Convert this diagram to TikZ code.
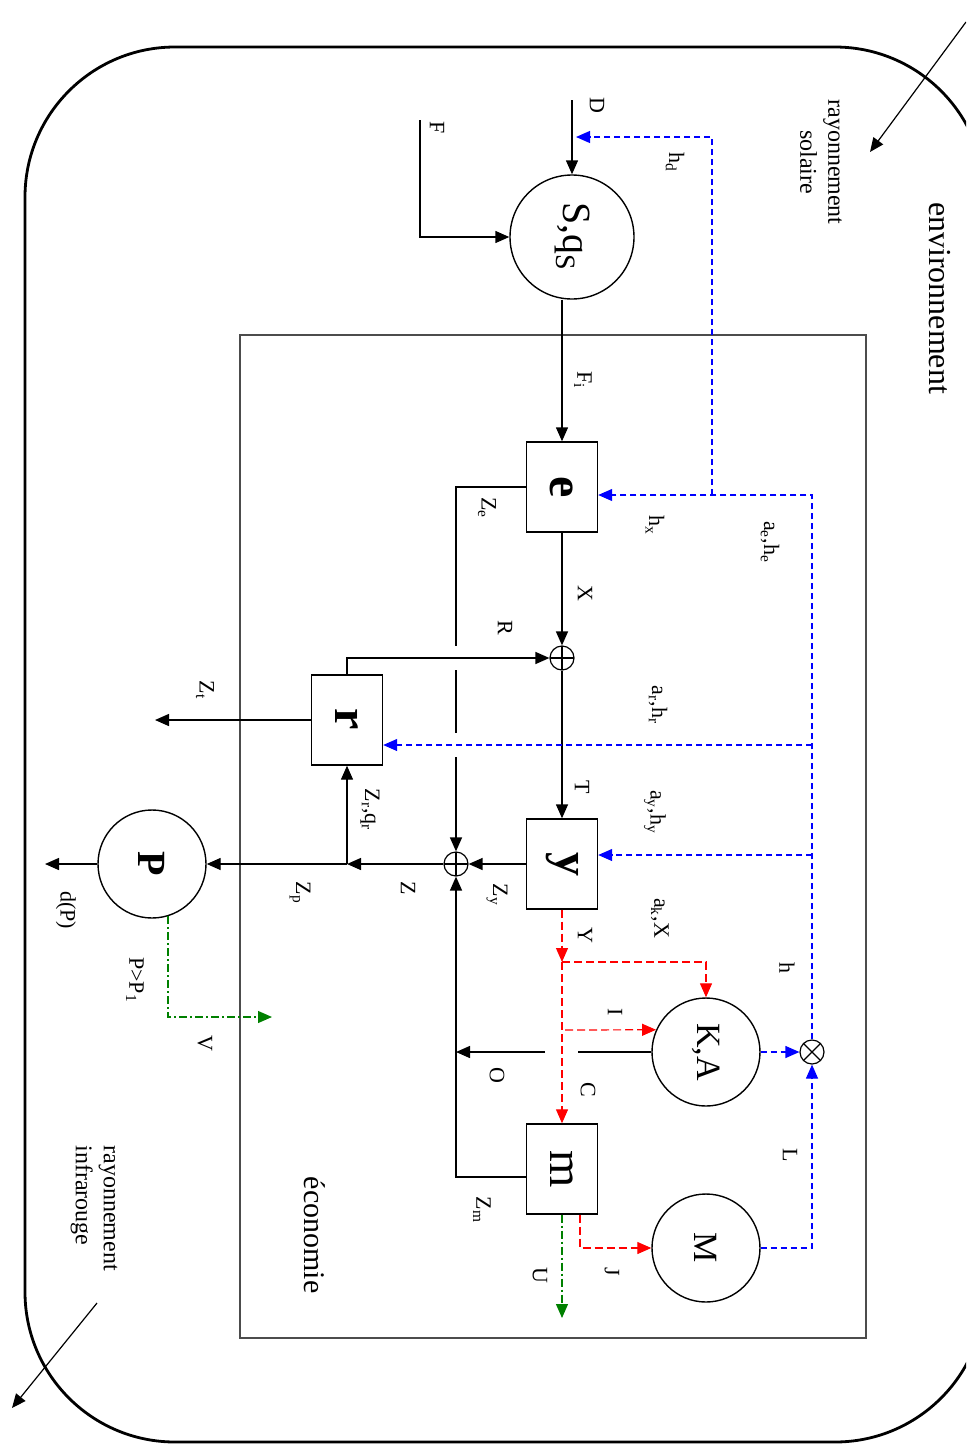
\documentclass[tikz,border=0pt]{standalone}
\usepackage{fontspec}
\setmainfont{Liberation Serif}
\usetikzlibrary{arrows.meta}
\newcommand{\vtext}[1]{\rotatebox[origin=c]{-90}{#1}}

\tikzset{
  tip/.style={-{Triangle[length=7pt,width=6pt]}},
  flow/.style={draw=black,line width=0.7pt,tip},
  ctrl/.style={draw=blue,line width=0.6pt,dash pattern=on 3pt off 2pt,tip},
  inv/.style={draw=red,line width=0.6pt,dash pattern=on 4pt off 2pt,tip},
  sust/.style={draw=green!50!black,line width=0.6pt,dash pattern=on 4pt off 1.5pt on 1pt off 1.5pt,tip},
  bloc/.style={draw,line width=0.7pt,minimum width=35.5pt,minimum height=45pt,inner sep=0pt,fill=white,font=\fontsize{24}{24}\selectfont},
  stock/.style={draw,circle,line width=0.7pt,inner sep=0pt,minimum size=54pt,font=\fontsize{17}{17}\selectfont},
  somme/.style={draw,circle,line width=0.6pt,inner sep=0pt,minimum size=12pt,
    path picture={\draw (path picture bounding box.north) -- (path picture bounding box.south)
      (path picture bounding box.west) -- (path picture bounding box.east);}},
  produit/.style={draw,circle,line width=0.6pt,inner sep=0pt,minimum size=12pt,
    path picture={\draw (path picture bounding box.north west) -- (path picture bounding box.south east)
      (path picture bounding box.north east) -- (path picture bounding box.south west);}},
  lbl/.style={rotate=-90,inner sep=1pt,font=\fontsize{11}{12}\selectfont},
}

\begin{document}
\begin{tikzpicture}[x=0.5pt,y=-0.5pt]
\useasboundingbox (0,0) rectangle (966,1446);
\clip (0,0) rectangle (966,1446);

\draw[line width=1.4pt,rounded corners=75pt] (25,47) rectangle (985,1442);
\draw[line width=0.8pt,draw=black!70] (240,335) rectangle (866,1338);

\node[lbl,font=\fontsize{16}{18}\selectfont] (envt) at (940,298) {environnement};
\node[lbl,font=\fontsize{15}{17}\selectfont] (eco) at (315,1235) {économie};
\node[lbl,font=\fontsize{12}{14}\selectfont,align=center] (sol) at (821,162) {rayonnement\\solaire};
\node[lbl,font=\fontsize{12}{14}\selectfont,align=left] (infra) at (94,1208) {rayonnement\\infrarouge};

\coordinate (sun1) at (966,22);
\coordinate (sun2) at (870,152);
\draw[flow,line width=0.6pt] (sun1) -- (sun2);
\coordinate (ir1) at (97,1303);
\coordinate (ir2) at (12,1408);
\draw[flow,line width=0.6pt] (ir1) -- (ir2);

\node[stock,minimum size=62pt,font=\fontsize{20}{20}\selectfont] (S) at (572,237) {\vtext{S,q\textsubscript{S}}};
\node[bloc,font=\fontsize{24}{24}\selectfont\bfseries] (e) at (562,487) {\vtext{e}};
\node[somme] (add1) at (562,658) {};
\node[bloc,font=\fontsize{24}{24}\selectfont\bfseries] (r) at (347,720) {\vtext{r}};
\node[bloc,font=\fontsize{24}{24}\selectfont\bfseries] (y) at (562,864) {\vtext{y}};
\node[somme] (add2) at (456,864) {};
\node[stock,font=\fontsize{20}{20}\selectfont\bfseries] (P) at (152,864) {\vtext{P}};
\node[stock] (KA) at (706,1052) {\vtext{K,A}};
\node[produit] (mult) at (812,1052) {};
\node[bloc] (m) at (562,1169) {\vtext{m}};
\node[stock] (M) at (706,1248) {\vtext{M}};

\coordinate (Din) at (572,100);
\coordinate (Fin) at (420,120);
\draw[flow] (Din) -- (S.north);
\draw[flow] (Fin) |- (S.west);
\draw[flow] (e.north |- S.south) -- (e.north);
\draw[flow] (e) -- (add1);
\draw[flow] (r.north) |- (add1.west);
\draw[flow] (add1) -- (y);
\draw[flow] (y) -- (add2);

\coordinate (ze1) at (456,646);
\coordinate (ze2) at (456,670);
\coordinate (ze3) at (456,733);
\coordinate (ze4) at (456,757);
\draw[line width=0.7pt] (e.west) -| (ze1);
\draw[line width=0.7pt] (ze2) -- (ze3);
\draw[flow] (ze4) -- (add2.north);
\draw[flow] ([yshift=-4pt]m.west) -| (add2.south);

\coordinate (jz) at (347,864);
\coordinate (ztend) at (155,720);
\coordinate (dpend) at (45,864);
\draw[flow] (add2) -- (jz);
\draw[flow] (jz) -- (P);
\draw[flow] (jz) -- (r.south);
\draw[flow] (r.west) -- (ztend);
\draw[flow] (P.west) -- (dpend);

\coordinate (vend) at (272,1017);
\draw[sust] (P.-73) |- (vend);

\coordinate (he) at (812,495);
\coordinate (hr) at (812,745);
\coordinate (hy) at (812,855);
\coordinate (hd) at (712,495);
\coordinate (hdend) at (576,137);
\draw[ctrl] (mult.north) -- (he) -- ([yshift=-4pt]e.east);
\draw[ctrl] (hr) -- ([yshift=-12.5pt]r.east);
\draw[ctrl] (hy) -- ([yshift=4.5pt]y.east);
\draw[ctrl] (hd) |- (hdend);
\draw[ctrl] (KA) -- (mult);
\draw[ctrl] (M.east) -| (mult.south);

\coordinate (ky) at (562,962);
\coordinate (ki) at (565,1030);
\draw[inv] (y.south) -- (ky);
\draw[inv] (ky) -- (m.north);
\draw[inv] (ky) -| (KA.north);
\draw[inv] (ki) -- (KA.156);
\draw[inv] ([xshift=9pt]m.south) |- (M.west);

\coordinate (o1) at (578,1052);
\coordinate (o2) at (545,1052);
\coordinate (oend) at (456,1052);
\draw[line width=0.7pt] (KA.west) -- (o1);
\draw[flow] (o2) -- (oend);

\coordinate (uend) at (562,1318);
\draw[sust] (m.south) -- (uend);

\node[lbl] (lD) at (597,105) {D};
\node[lbl] (lF) at (437,128) {F};
\node[lbl] (lhd) at (675,162) {h\textsubscript{d}};
\node[lbl] (lFi) at (583,380) {F\textsubscript{i}};
\node[lbl] (lhx) at (655,525) {h\textsubscript{x}};
\node[lbl] (lhe) at (770,542) {a\textsubscript{e},h\textsubscript{e}};
\node[lbl] (lZe) at (487,508) {Z\textsubscript{e}};
\node[lbl] (lX) at (585,593) {X};
\node[lbl] (lR) at (505,628) {R};
\node[lbl] (lhr) at (658,705) {a\textsubscript{r},h\textsubscript{r}};
\node[lbl] (lZt) at (205,690) {Z\textsubscript{t}};
\node[lbl] (lT) at (582,787) {T};
\node[lbl] (lhy) at (655,812) {a\textsubscript{y},h\textsubscript{y}};
\node[lbl] (lZr) at (370,810) {Z\textsubscript{r},q\textsubscript{r}};
\node[lbl] (lZy) at (497,895) {Z\textsubscript{y}};
\node[lbl] (lZ) at (408,888) {Z};
\node[lbl] (lZp) at (300,893) {Z\textsubscript{p}};
\node[lbl] (ldP) at (66,910) {d(P)};
\node[lbl] (lak) at (660,918) {a\textsubscript{k},X};
\node[lbl] (lY) at (585,935) {Y};
\node[lbl] (lh) at (787,968) {h};
\node[lbl] (lI) at (615,1012) {I};
\node[lbl] (lPP) at (135,980) {P>P\textsubscript{1}};
\node[lbl] (lV) at (205,1043) {V};
\node[lbl] (lO) at (497,1075) {O};
\node[lbl] (lC) at (588,1090) {C};
\node[lbl] (lL) at (790,1155) {L};
\node[lbl] (lZm) at (482,1210) {Z\textsubscript{m}};
\node[lbl] (lU) at (540,1275) {U};
\node[lbl] (lJ) at (612,1272) {J};
\end{tikzpicture}
\end{document}
